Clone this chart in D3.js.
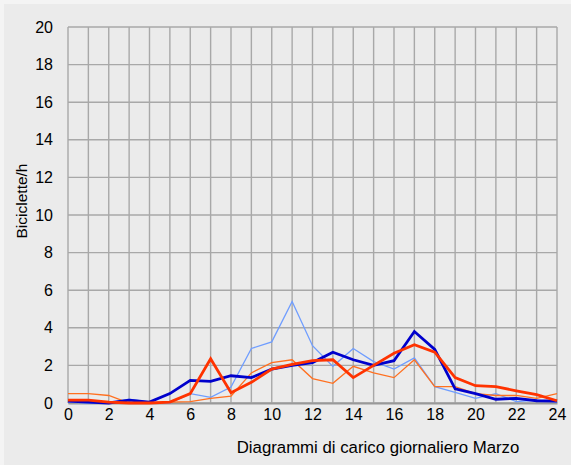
<!DOCTYPE html>
<html>
<head>
<meta charset="utf-8">
<script src="https://cdn.jsdelivr.net/npm/d3@7"></script>
<style>
html,body{margin:0;padding:0;background:#f4f4f4;}
svg{display:block;font-family:"Liberation Sans",Arial,sans-serif;}
</style>
</head>
<body>
<svg id="chart" width="571" height="465"></svg>
<script>
const hours = d3.range(0, 25);
const xTicks = [0,2,4,6,8,10,12,14,16,18,20,22,24];
const yTicks = [0,2,4,6,8,10,12,14,16,18,20];
const lightBlue = [0.05,0,0,0.2,0.05,0,0.5,0.3,0.85,2.9,3.25,5.4,3.05,1.95,2.9,2.2,1.8,2.4,0.87,0.57,0.25,0.5,0.07,0.15,0.05];
const orange    = [0.5,0.5,0.4,0,0,0.05,0.07,0.25,0.37,1.6,2.15,2.3,1.3,1.05,1.95,1.6,1.35,2.3,0.87,0.87,0.5,0.4,0.4,0.25,0.5];
const darkBlue  = [0.1,0.05,0,0.15,0.05,0.5,1.2,1.15,1.45,1.35,1.8,2.0,2.15,2.7,2.3,2.0,2.25,3.8,2.85,0.75,0.5,0.2,0.25,0.12,0.1];
const red       = [0.15,0.15,0.05,0,0,0.05,0.5,2.35,0.55,1.1,1.8,2.05,2.25,2.3,1.35,2.0,2.65,3.1,2.7,1.35,0.92,0.87,0.65,0.45,0.12];

const series = [
  {values: lightBlue, color: "#6f9dff", width: 1.3},
  {values: orange, color: "#ff7020", width: 1.3},
  {values: darkBlue, color: "#0000cc", width: 2.8},
  {values: red, color: "#ff3300", width: 2.8}
];

const svg = d3.select("#chart");
svg.append("rect").attr("x",4).attr("y",4).attr("width",567).attr("height",461).attr("fill","#ebebeb");

const x = d3.scaleLinear().domain([0,24]).range([68,557]);
const y = d3.scaleLinear().domain([0,20]).range([403,27]);

const g = svg.append("g");
g.selectAll("line.v").data(hours).join("line")
  .attr("x1", d=>x(d)).attr("x2", d=>x(d)).attr("y1", y(0)).attr("y2", y(20))
  .attr("stroke","#a8a8a8").attr("stroke-width",1.4);
g.selectAll("line.h").data(yTicks).join("line")
  .attr("x1", x(0)).attr("x2", x(24)).attr("y1", d=>y(d)).attr("y2", d=>y(d))
  .attr("stroke","#a8a8a8").attr("stroke-width",1.4);

const xAxis = d3.axisBottom(x).tickValues(xTicks).tickSize(0).tickPadding(6).tickFormat(d3.format("d"));
const xg = svg.append("g").attr("transform",`translate(0,${y(0)})`).call(xAxis);
xg.select(".domain").attr("stroke","#999").attr("stroke-width",2);
xg.selectAll("text").attr("font-size",16).attr("fill","#000").attr("font-family","Liberation Sans, Arial, sans-serif");

const yAxis = d3.axisLeft(y).tickValues(yTicks).tickSize(0).tickPadding(15).tickFormat(d3.format("d"));
const yg = svg.append("g").attr("transform",`translate(${x(0)},0)`).call(yAxis);
yg.select(".domain").remove();
yg.selectAll("text").attr("font-size",16).attr("fill","#000").attr("font-family","Liberation Sans, Arial, sans-serif");

const line = d3.line().x((d,i)=>x(hours[i])).y(d=>y(d));
series.forEach(s=>{
  svg.append("path").datum(s.values).attr("d",line)
    .attr("fill","none").attr("stroke",s.color).attr("stroke-width",s.width)
    .attr("stroke-linejoin","miter");
});

svg.append("text").attr("x",378).attr("y",453).attr("text-anchor","middle")
  .attr("font-size",16.8).attr("fill","#000").text("Diagrammi di carico giornaliero Marzo");
svg.append("text").attr("transform","translate(27,201) rotate(-90)").attr("text-anchor","middle")
  .attr("font-size",15.5).attr("fill","#000").text("Biciclette/h");
</script>
</body>
</html>
